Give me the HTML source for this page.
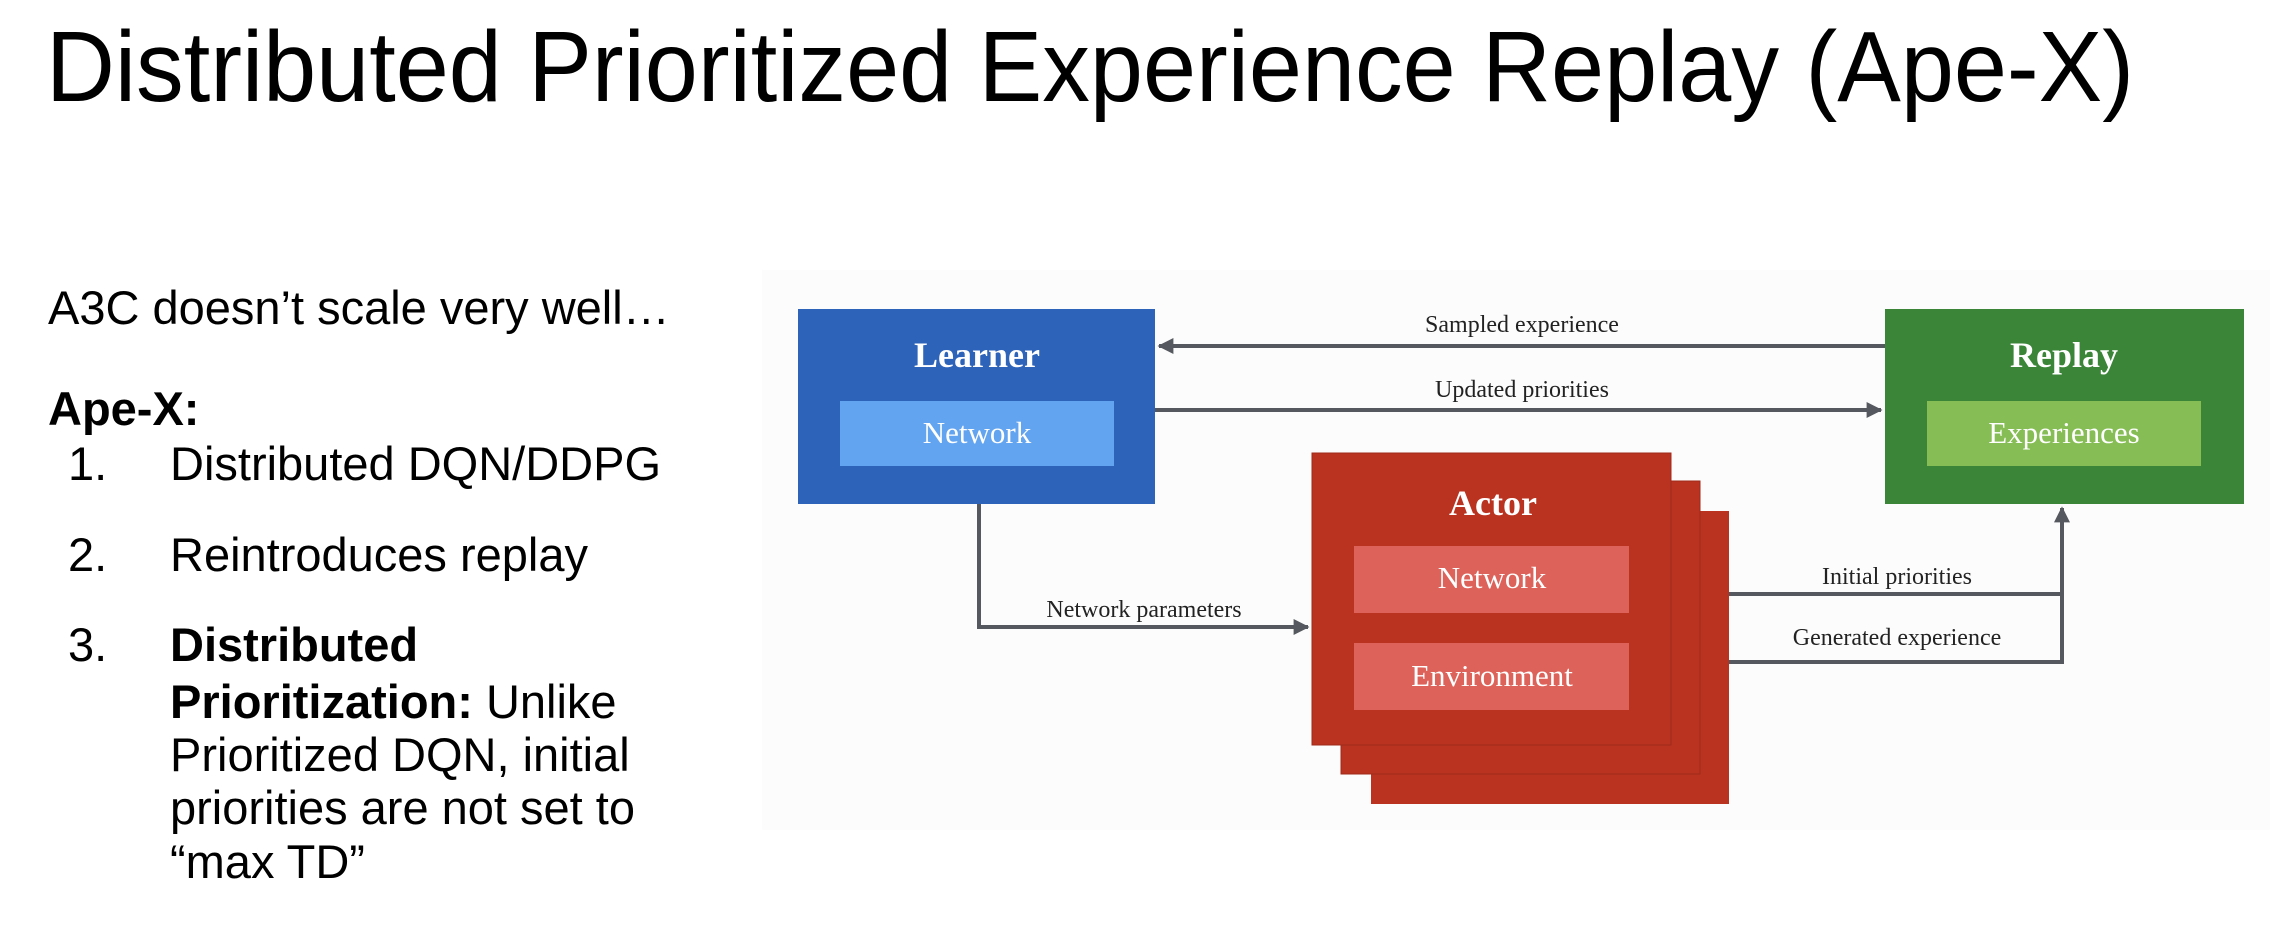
<!DOCTYPE html>
<html><head><style>
html,body{margin:0;padding:0;background:#fff;width:2270px;height:938px;overflow:hidden}
</style></head><body>
<svg width="2270" height="938" xmlns="http://www.w3.org/2000/svg">
<defs>
<marker id="ah" viewBox="0 0 10 10" refX="9" refY="5" markerWidth="4" markerHeight="4" orient="auto"><path d="M0,0 L10,5 L0,10 z" fill="#55595f"/></marker>
</defs>
<text x="46" y="101" font-family="Liberation Sans, sans-serif" font-size="100" fill="#000" textLength="2088" lengthAdjust="spacingAndGlyphs">Distributed Prioritized Experience Replay (Ape-X)</text>
<g font-family="Liberation Sans, sans-serif" font-size="47" fill="#000">
<text x="48" y="324">A3C doesn’t scale very well…</text>
<text x="48" y="425" font-weight="bold">Ape-X:</text>
<text x="68" y="480">1.</text><text x="170" y="480">Distributed DQN/DDPG</text>
<text x="68" y="571">2.</text><text x="170" y="571">Reintroduces replay</text>
<text x="68" y="661">3.</text><text x="170" y="661" font-weight="bold">Distributed</text>
<text x="170" y="718"><tspan font-weight="bold">Prioritization:</tspan> Unlike</text>
<text x="170" y="771">Prioritized DQN, initial</text>
<text x="170" y="824">priorities are not set to</text>
<text x="170" y="878">“max TD”</text>
</g>
<rect x="762" y="270" width="1508" height="560" fill="#fcfcfc"/>
<g stroke="#55595f" stroke-width="4" fill="none">
<line x1="1885" y1="346" x2="1159" y2="346" marker-end="url(#ah)"/>
<line x1="1155" y1="410" x2="1881" y2="410" marker-end="url(#ah)"/>
<polyline points="979,504 979,627 1308,627" marker-end="url(#ah)"/>
<polyline points="1729,662 2062,662 2062,508" marker-end="url(#ah)"/>
<line x1="1729" y1="594" x2="2062" y2="594"/>
</g>
<rect x="798" y="309" width="357" height="195" fill="#2d63b8"/>
<rect x="840" y="401" width="274" height="65" fill="#63a4f0"/>
<rect x="1885" y="309" width="359" height="195" fill="#3b8538"/>
<rect x="1927" y="401" width="274" height="65" fill="#86bd55"/>
<rect x="1371" y="511" width="358" height="293" fill="#b93320"/>
<rect x="1341" y="481" width="359" height="293" fill="#b93320" stroke="#a02a1a" stroke-width="1"/>
<rect x="1312" y="453" width="359" height="292" fill="#b93320" stroke="#a02a1a" stroke-width="1"/>
<rect x="1354" y="546" width="275" height="67" fill="#dd625a"/>
<rect x="1354" y="643" width="275" height="67" fill="#dd625a"/>
<g font-family="Liberation Serif, serif" fill="#fff" text-anchor="middle">
<text x="977" y="367" font-size="36" font-weight="bold">Learner</text>
<text x="977" y="443" font-size="31">Network</text>
<text x="2064" y="367" font-size="36" font-weight="bold">Replay</text>
<text x="2064" y="443" font-size="31">Experiences</text>
<text x="1493" y="515" font-size="36" font-weight="bold">Actor</text>
<text x="1492" y="588" font-size="31">Network</text>
<text x="1492" y="686" font-size="31">Environment</text>
</g>
<g font-family="Liberation Serif, serif" fill="#222" text-anchor="middle" font-size="24">
<text x="1522" y="332">Sampled experience</text>
<text x="1522" y="397">Updated priorities</text>
<text x="1144" y="617">Network parameters</text>
<text x="1897" y="584">Initial priorities</text>
<text x="1897" y="645">Generated experience</text>
</g>
</svg>
</body></html>
